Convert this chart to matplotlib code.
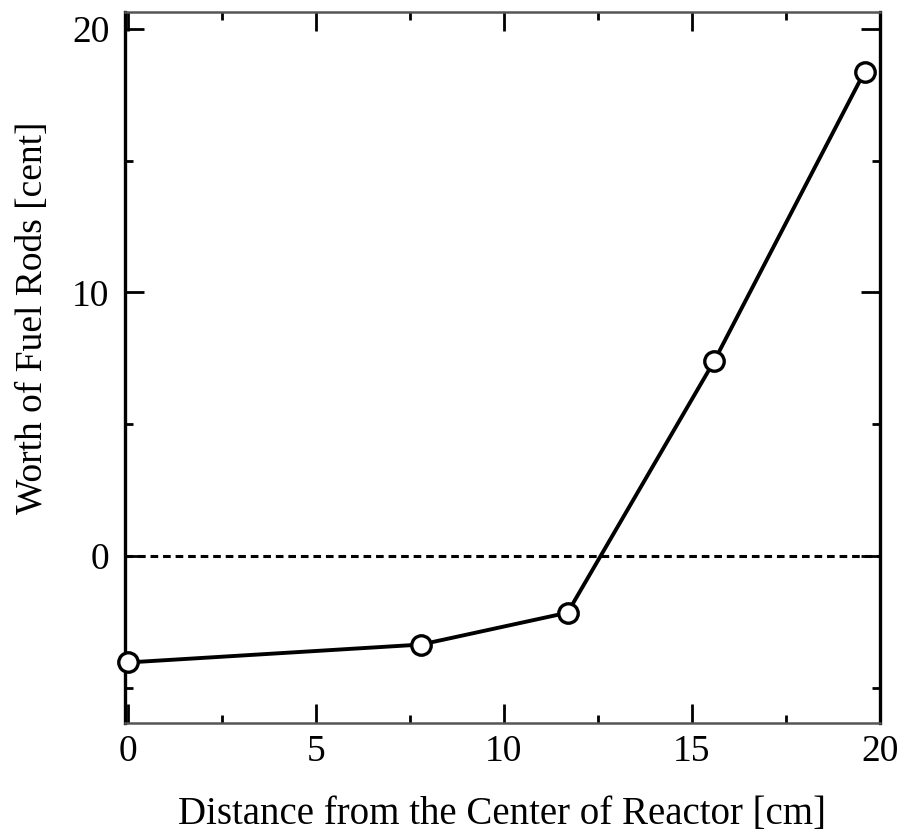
import matplotlib
matplotlib.use("Agg")
import matplotlib.pyplot as plt
from matplotlib.ticker import MultipleLocator

distance_cm = [0.0, 7.8, 11.7, 15.6, 19.6]
worth_cent = [-4.05, -3.37, -2.16, 7.39, 18.37]
xticks = [0, 5, 10, 15, 20]
yticks = [0, 10, 20]

plt.rcParams['font.family'] = ['Liberation Serif', 'DejaVu Serif']

fig = plt.figure(figsize=(9.04, 8.34), dpi=100)
ax = fig.add_axes([0.138, 0.133, 0.835, 0.853])

ax.axhline(0, color='black', lw=2.2, linestyle=(0, (2.5, 1.6)), zorder=1)
ax.plot(distance_cm, worth_cent, color='black', lw=2.8, marker='o', markersize=14,
        markerfacecolor='white', markeredgecolor='black', markeredgewidth=2.4,
        clip_on=False, zorder=3)

ax.set_xlim(-0.08, 20.0)
ax.set_ylim(-6.35, 20.65)
ax.set_xticks(xticks)
ax.set_yticks(yticks)
ax.xaxis.set_minor_locator(MultipleLocator(2.5))
ax.yaxis.set_minor_locator(MultipleLocator(5))
ax.tick_params(which='both', direction='in', top=True, right=True, width=2, labelsize=27, color='black')
ax.tick_params(which='major', length=14)
ax.tick_params(which='minor', length=6)
ax.tick_params(axis='x', which='major', pad=8)
ax.tick_params(axis='y', which='major', pad=11)

for s in ['left', 'right']:
    ax.spines[s].set_linewidth(2.4)
for s in ['top', 'bottom']:
    ax.spines[s].set_linewidth(1.8)
    ax.spines[s].set_color('#555555')

ax.set_xlabel('Distance from the Center of Reactor [cm]', fontsize=28)
ax.xaxis.set_label_coords(0.5, -0.103)
ax.set_ylabel('Worth of Fuel Rods [cent]', fontsize=27)
ax.yaxis.set_label_coords(-0.099, 0.570)

fig.savefig('out.png', dpi=100)
